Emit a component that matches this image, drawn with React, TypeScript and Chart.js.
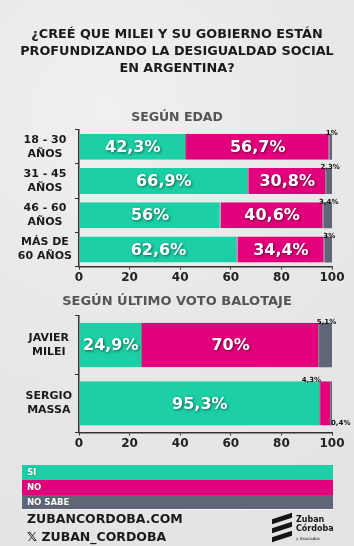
import React, { useEffect, useRef } from 'react';
import { Chart, registerables } from 'chart.js';

Chart.register(...registerables);

const FONT = '"DejaVu Sans", "Open Sans", sans-serif';

const ageCategories = [['18 - 30', 'AÑOS'], ['31 - 45', 'AÑOS'], ['46 - 60', 'AÑOS'], ['MÁS DE', '60 AÑOS']];
const ageSi = [42.3, 66.9, 56, 62.6];
const ageNo = [56.7, 30.8, 40.6, 34.4];
const ageNoSabe = [1, 2.3, 3.4, 3];

const voteCategories = [['JAVIER', 'MILEI'], ['SERGIO', 'MASSA']];
const voteSi = [24.9, 95.3];
const voteNo = [70, 4.3];
const voteNoSabe = [5.1, 0.4];

const seriesNames = ['SI', 'NO', 'NO SABE'];
const seriesColors = ['#1dcfa6', '#e3007c', '#5f6678'];

const fmt = (v: number) => String(v).replace('.', ',') + '%';

const labelPlugin = {
  id: 'segLabels',
  afterDatasetsDraw(chart: any) {
    const ctx = chart.ctx;
    chart.data.datasets.forEach((ds: any, di: number) => {
      const meta = chart.getDatasetMeta(di);
      meta.data.forEach((bar: any, i: number) => {
        const v = ds.data[i];
        const p = bar.getProps(['x', 'y', 'base', 'height'], true);
        const left = Math.min(p.x, p.base);
        const right = Math.max(p.x, p.base);
        const txt = fmt(v);
        ctx.save();
        if (v >= 6) {
          ctx.font = `bold 16px ${FONT}`;
          ctx.fillStyle = '#ffffff';
          ctx.textAlign = 'center';
          ctx.textBaseline = 'middle';
          ctx.shadowColor = 'rgba(0,0,0,0.55)';
          ctx.shadowBlur = 3;
          ctx.shadowOffsetX = 1;
          ctx.shadowOffsetY = 1;
          ctx.fillText(txt, (left + right) / 2, p.y + 1);
        } else {
          ctx.font = `bold 7px ${FONT}`;
          ctx.fillStyle = '#111111';
          if (di === 2 && v < 1) {
            ctx.textAlign = 'left';
            ctx.textBaseline = 'top';
            ctx.fillText(txt, left, p.y + p.height / 2 - 6);
          } else if (di === 2) {
            ctx.textAlign = 'center';
            ctx.textBaseline = 'bottom';
            ctx.fillText(txt, (left + right) / 2 + 1, p.y - p.height / 2 + 3);
          } else {
            ctx.textAlign = 'right';
            ctx.textBaseline = 'bottom';
            ctx.fillText(txt, left + 1, p.y - p.height / 2 + 3);
          }
        }
        ctx.restore();
      });
    });
  },
};

function StackedBars({ labels, si, no, ns, top, height }: any) {
  const ref = useRef<HTMLCanvasElement | null>(null);
  useEffect(() => {
    const values = [si, no, ns];
    const chart = new Chart(ref.current as HTMLCanvasElement, {
      type: 'bar',
      data: {
        labels,
        datasets: seriesNames.map((name, k) => ({
          label: name,
          data: values[k],
          backgroundColor: seriesColors[k],
          borderColor: 'rgba(40,40,40,0.55)',
          borderWidth: k < 2 ? { right: 1 } : 0,
          borderSkipped: false,
          categoryPercentage: 1,
          barPercentage: 0.76,
        })),
      },
      options: {
        indexAxis: 'y',
        responsive: false,
        animation: false,
        layout: { padding: { top: 6, right: 22, left: 0, bottom: 0 } },
        plugins: { legend: { display: false }, tooltip: { enabled: false } },
        scales: {
          x: {
            stacked: true,
            min: 0,
            max: 100,
            ticks: { stepSize: 20, color: '#222', padding: 1, font: { family: FONT, size: 12, weight: 'bold' } },
            grid: { drawOnChartArea: false, tickLength: 3, color: '#333' },
            border: { color: '#333', width: 1.5 },
          },
          y: {
            stacked: true,
            afterFit: (s: any) => { s.width = 79; },
            ticks: { crossAlign: 'center', color: '#1a1a1a', padding: 3, font: { family: FONT, size: 11, weight: 'bold', lineHeight: 1.25 } },
            grid: { drawOnChartArea: false, tickLength: 4, color: '#333' },
            border: { color: '#333', width: 1.5 },
          },
        },
      },
      plugins: [labelPlugin],
    } as any);
    return () => chart.destroy();
  }, []);
  return (
    <canvas
      ref={ref}
      width={354}
      height={height}
      style={{ position: 'absolute', left: 0, top, width: 354, height }}
    />
  );
}

export default function App() {
  const abs: any = { position: 'absolute' };
  return (
    <div
      style={{
        position: 'fixed', left: 0, top: 0, width: 354, height: 546, overflow: 'hidden',
        background: 'radial-gradient(circle at 30% 20%, #f0f0f0 0%, #e8e8e8 45%, #e3e3e3 100%)',
        fontFamily: FONT, fontWeight: 'bold',
      }}
    >
      <div style={{ ...abs, top: 25, left: 0, width: 354, textAlign: 'center', fontSize: 12.8, lineHeight: '17px', color: '#1a1a1a' }}>
        ¿CREÉ QUE MILEI Y SU GOBIERNO ESTÁN<br />PROFUNDIZANDO LA DESIGUALDAD SOCIAL<br />EN ARGENTINA?
      </div>
      <div style={{ ...abs, top: 109, left: 0, width: 354, textAlign: 'center', fontSize: 12.5, color: '#555' }}>SEGÚN EDAD</div>
      <StackedBars labels={ageCategories} si={ageSi} no={ageNo} ns={ageNoSabe} top={113} height={173} />
      <div style={{ ...abs, top: 293, left: 0, width: 354, textAlign: 'center', fontSize: 13, color: '#555' }}>SEGÚN ÚLTIMO VOTO BALOTAJE</div>
      <StackedBars labels={voteCategories} si={voteSi} no={voteNo} ns={voteNoSabe} top={299} height={153} />
      <div style={{ ...abs, left: 22, top: 465, width: 311 }}>
        {seriesNames.map((name, k) => (
          <div
            key={name}
            style={{
              height: k === 0 ? 15 : 14.5, background: seriesColors[k], color: '#fff', fontSize: 8.5,
              lineHeight: k === 0 ? '15px' : '14.5px', paddingLeft: 5, textShadow: '0 0 2px rgba(0,0,0,0.5)',
              borderBottom: k === 2 ? '1px solid #f4f4f4' : 'none',
            }}
          >
            {name}
          </div>
        ))}
      </div>
      <div style={{ ...abs, left: 27, top: 511, fontSize: 12.5, color: '#1a1a1a' }}>ZUBANCORDOBA.COM</div>
      <div style={{ ...abs, left: 27, top: 529, fontSize: 12.5, color: '#1a1a1a' }}>𝕏 ZUBAN_CORDOBA</div>
      <div style={{ ...abs, left: 272, top: 516, width: 22, height: 30 }}>
        {[0, 1, 2].map((k) => (
          <div key={k} style={{ position: 'absolute', left: 0, top: k * 9, width: 20, height: 5, background: '#151515', transform: 'skewY(-18deg)' }} />
        ))}
      </div>
      <div style={{ ...abs, left: 296, top: 515, fontSize: 8, lineHeight: '9px', color: '#151515' }}>
        Zuban<br />Córdoba<br /><span style={{ fontSize: 4, fontWeight: 'normal' }}>y Asociados</span>
      </div>
    </div>
  );
}
